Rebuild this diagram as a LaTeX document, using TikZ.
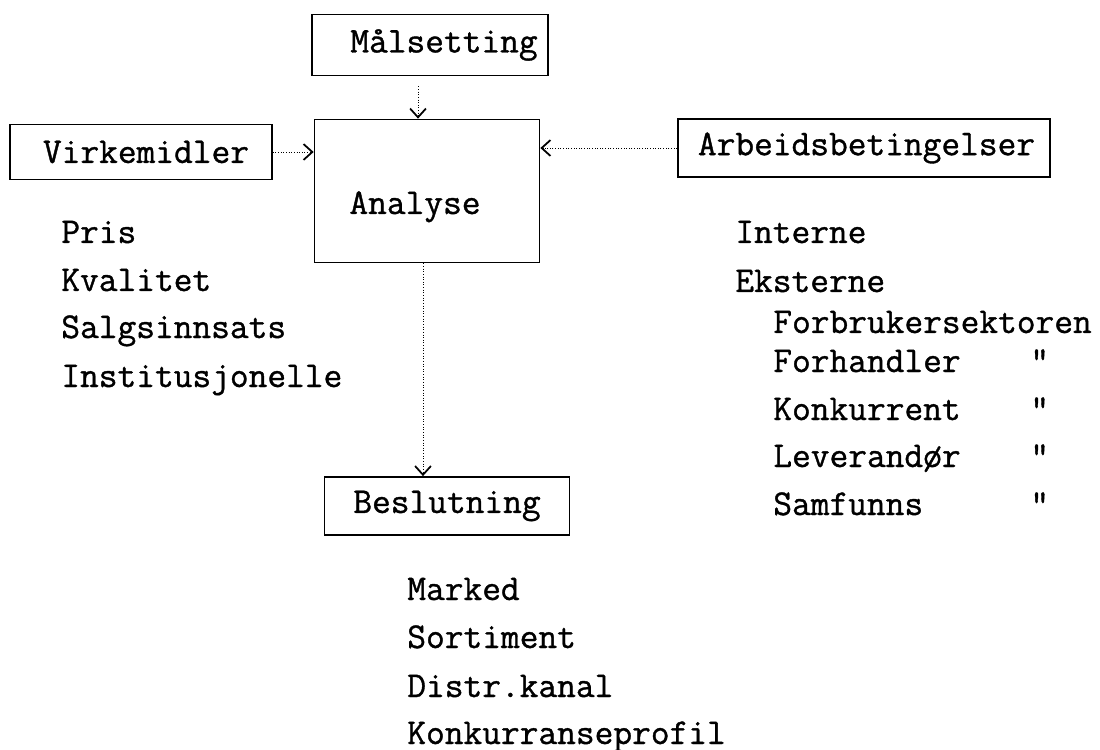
\documentclass[tikz,border=0pt]{standalone}
\usepackage{fontspec}
\newfontfamily\typewriter[FakeBold=1]{Latin Modern Mono}
\usetikzlibrary{arrows.meta}

\tikzset{
  typed/.style={font=\typewriter\fontsize{20.7}{24}\selectfont},
  stage/.style={typed, draw, line width=1pt, inner sep=0pt},
  entry/.style={typed, anchor=base west, inner sep=0pt},
  flow/.style={densely dotted, line width=0.5pt, -{Straight Barb[length=5pt,width=9pt,line width=1pt]}},
}

\begin{document}
\begin{tikzpicture}[x=0.02cm,y=-0.02cm]
  \useasboundingbox (0,0) rectangle (1100,750);
  % boxes
  \node[stage, minimum width=4.72cm, minimum height=1.22cm] (mal) at (430,45) {\hspace*{0.56cm}Målsetting};
  \node[stage, minimum width=5.24cm, minimum height=1.1cm] (vir) at (141,152) {\hspace*{0.2cm}Virkemidler};
  \node[stage, minimum width=4.5cm, minimum height=2.86cm, text height=1.1cm, text depth=0.18cm] (ana) at (427,191) {Analyse\hspace*{0.48cm}};
  \node[stage, minimum width=7.44cm, minimum height=1.16cm] (arb) at (864,148) {\hspace*{0.1cm}Arbeidsbetingelser};
  \node[stage, minimum width=4.9cm, minimum height=1.16cm] (bes) at (447,506) {Beslutning};
  % arrows
  \draw[flow, shorten <=0.2cm] ([xshift=-0.24cm]mal.south) -- ([xshift=-0.24cm]mal.south |- ana.north);
  \draw[flow] (vir.east) -- (vir.east -| ana.west);
  \draw[flow] (arb.west) -- (arb.west -| ana.east);
  \draw[flow] ([xshift=-0.08cm]ana.south) -- ([xshift=-0.08cm]ana.south |- bes.north);
  % lists
  \foreach \txt/\y [count=\i] in {Pris/243, Kvalitet/291, Salgsinnsats/338, Institusjonelle/387}
    \node[entry] (vm-\i) at (61,\y) {\txt};
  \node[entry] (ab-int) at (735,243) {Interne};
  \node[entry] (ab-eks) at (735,292) {Eksterne};
  \node[entry] (ab-1) at (773,333) {Forbrukersektoren};
  \foreach \txt/\y [count=\i from 2] in {Forhandler/372, Konkurrent/420, Leverandør/467, Samfunns/515} {
    \node[entry] (ab-\i) at (773,\y) {\txt};
    \node[entry] (dt-\i) at (1030,\y) {"};
  }
  \foreach \txt/\y [count=\i] in {Marked/600, Sortiment/648, Distr.kanal/697, Konkurranseprofil/744}
    \node[entry] (bs-\i) at (407,\y) {\txt};
\end{tikzpicture}
\end{document}
